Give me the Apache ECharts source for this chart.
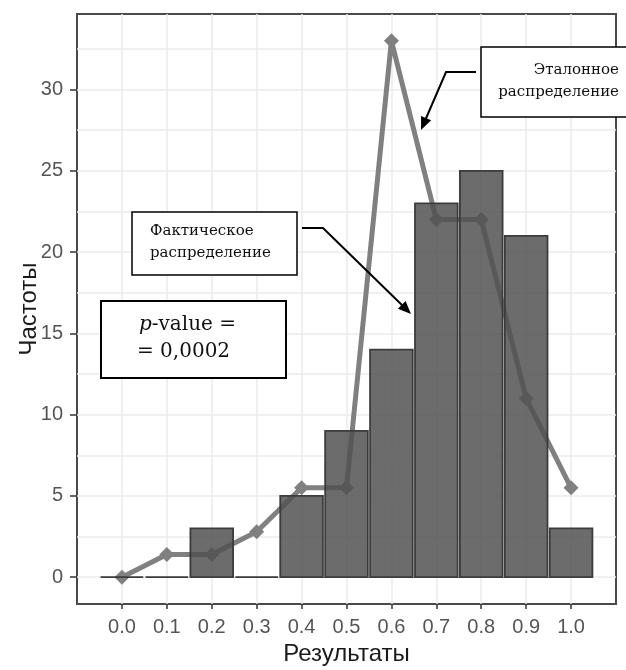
<!DOCTYPE html>
<html>
<head>
<meta charset="utf-8">
<script src="https://cdn.jsdelivr.net/npm/echarts@6/dist/echarts.min.js"></script>
<style>
html,body{margin:0;padding:0;background:#fff;}
#chart{width:626px;height:670px;}
</style>
</head>
<body>
<div id="chart"></div>
<script>
// ---- data ----
const categories = [0.0, 0.1, 0.2, 0.3, 0.4, 0.5, 0.6, 0.7, 0.8, 0.9, 1.0];
const actualCounts = [0, 0, 3, 0, 5, 9, 14, 23, 25, 21, 3];
const referenceCounts = [0, 1.4, 1.4, 2.8, 5.5, 5.5, 33, 22, 22, 11, 5.5];
const xTickValues = [0.0, 0.1, 0.2, 0.3, 0.4, 0.5, 0.6, 0.7, 0.8, 0.9, 1.0];
const yTickValues = [0, 5, 10, 15, 20, 25, 30];
const yGridValues = [0, 2.5, 5, 7.5, 10, 12.5, 15, 17.5, 20, 22.5, 25, 27.5, 30, 32.5];
const xAxisTitle = 'Результаты';
const yAxisTitle = 'Частоты';
const referenceLabel = ['Эталонное', 'распределение'];
const actualLabel = ['Фактическое', 'распределение'];
const pValueLines = ['{i|p}-value =', '= 0,0002'];

// ---- styles ----
const BAR_HALF = 0.0475;
const gridColor = '#ebebeb';
const serif = '"DejaVu Serif", serif';
const sans = '"Liberation Sans", Arial, sans-serif';

function arrowHead(x0, y0, x1, y1, len, half) {
  const dx = x1 - x0, dy = y1 - y0;
  const L = Math.sqrt(dx * dx + dy * dy);
  const ux = dx / L, uy = dy / L;
  const bx = x1 - ux * len, by = y1 - uy * len;
  const nx = -uy, ny = ux;
  return [[x1, y1], [bx + nx * half, by + ny * half], [bx - nx * half, by - ny * half]];
}

const chart = echarts.init(document.getElementById('chart'), null, {renderer: 'canvas'});

const option = {
  animation: false,
  backgroundColor: '#fff',
  grid: {
    left: 77, right: 10, top: 14, bottom: 66,
    containLabel: false, outerBoundsMode: 'none',
    show: true, borderColor: '#4a4a4a', borderWidth: 2, backgroundColor: 'transparent'
  },
  xAxis: {
    type: 'value',
    min: -0.1, max: 1.1, interval: 0.05,
    name: xAxisTitle, nameLocation: 'middle', nameGap: 38, nameMoveOverlap: false,
    nameTextStyle: {fontFamily: sans, fontSize: 24, color: '#1a1a1a'},
    axisLine: {show: false, onZero: false},
    axisTick: {show: true, customValues: xTickValues, length: 5, lineStyle: {color: '#333', width: 1.5}},
    axisLabel: {
      customValues: xTickValues, margin: 13,
      formatter: v => Number(v).toFixed(1),
      fontFamily: sans, fontSize: 20, color: '#555'
    },
    splitLine: {show: true, lineStyle: {color: gridColor, width: 1.5}}
  },
  yAxis: {
    type: 'value',
    min: -1.65, max: 34.65,
    name: yAxisTitle, nameLocation: 'middle', nameGap: 36, nameMoveOverlap: false,
    nameTextStyle: {fontFamily: sans, fontSize: 24, color: '#1a1a1a'},
    axisLine: {show: false, onZero: false},
    axisTick: {show: true, customValues: yTickValues, length: 7, lineStyle: {color: '#333', width: 1.5}},
    axisLabel: {
      customValues: yTickValues, margin: 14,
      fontFamily: sans, fontSize: 20, color: '#555'
    },
    splitLine: {show: false}
  },
  series: [
    {
      name: 'grid',
      type: 'line',
      data: [],
      z: 1,
      silent: true,
      markLine: {
        z: 1,
        silent: true,
        symbol: 'none',
        label: {show: false},
        lineStyle: {color: gridColor, width: 1.5, type: 'solid'},
        data: yGridValues.map(v => ({yAxis: v}))
      }
    },
    {
      name: 'Эталонное распределение',
      type: 'line',
      z: 2,
      data: categories.map((c, i) => [c, referenceCounts[i]]),
      symbol: 'diamond',
      symbolSize: 15,
      lineStyle: {color: '#808080', width: 5},
      itemStyle: {color: '#808080'}
    },
    {
      name: 'Фактическое распределение',
      type: 'custom',
      z: 3,
      data: categories.map((c, i) => [c, actualCounts[i]]),
      renderItem: function (params, api) {
        const x = api.value(0), y = api.value(1);
        const p0 = api.coord([x - BAR_HALF, y]);
        const p1 = api.coord([x + BAR_HALF, 0]);
        return {
          type: 'rect',
          shape: {x: p0[0], y: p0[1], width: p1[0] - p0[0], height: p1[1] - p0[1]},
          style: {fill: 'rgba(80,80,80,0.84)', stroke: '#3c3c3c', lineWidth: 1.8}
        };
      }
    }
  ],
  graphic: [
    // reference label box
    {type: 'rect', z: 100, shape: {x: 481, y: 47, width: 150, height: 70},
      style: {fill: '#fff', stroke: '#000', lineWidth: 1.5}},
    {type: 'text', z: 101, style: {text: referenceLabel[0], x: 619, y: 70, font: '15px ' + serif,
      textAlign: 'right', textVerticalAlign: 'middle', fill: '#111'}},
    {type: 'text', z: 101, style: {text: referenceLabel[1], x: 619, y: 92, font: '15px ' + serif,
      textAlign: 'right', textVerticalAlign: 'middle', fill: '#111'}},
    {type: 'polyline', z: 101, shape: {points: [[476, 72], [446, 72], [424, 123]]},
      style: {stroke: '#000', lineWidth: 2, fill: null}},
    {type: 'polygon', z: 101, shape: {points: arrowHead(446, 72, 421, 130, 13, 5.5)},
      style: {fill: '#000'}},
    // actual label box
    {type: 'rect', z: 100, shape: {x: 132, y: 212, width: 165, height: 63},
      style: {fill: '#fff', stroke: '#000', lineWidth: 1.5}},
    {type: 'text', z: 101, style: {text: actualLabel[0], x: 150, y: 231, font: '15px ' + serif,
      textAlign: 'left', textVerticalAlign: 'middle', fill: '#111'}},
    {type: 'text', z: 101, style: {text: actualLabel[1], x: 150, y: 253, font: '15px ' + serif,
      textAlign: 'left', textVerticalAlign: 'middle', fill: '#111'}},
    {type: 'polyline', z: 101, shape: {points: [[302, 228], [323, 228], [405, 308]]},
      style: {stroke: '#000', lineWidth: 2, fill: null}},
    {type: 'polygon', z: 101, shape: {points: arrowHead(323, 228, 411, 314, 13, 5.5)},
      style: {fill: '#000'}},
    // p-value box
    {type: 'rect', z: 100, shape: {x: 101, y: 301, width: 185, height: 77},
      style: {fill: '#fff', stroke: '#000', lineWidth: 2}},
    {type: 'text', z: 101, style: {text: pValueLines[0], x: 139, y: 325, font: '20px ' + serif,
      textAlign: 'left', textVerticalAlign: 'middle', fill: '#111',
      rich: {i: {fontStyle: 'italic', fontFamily: 'DejaVu Serif', fontSize: 20, fill: '#111'}}}},
    {type: 'text', z: 101, style: {text: pValueLines[1], x: 137, y: 352, font: '20px ' + serif,
      textAlign: 'left', textVerticalAlign: 'middle', fill: '#111'}}
  ]
};

chart.setOption(option);
</script>
</body>
</html>
